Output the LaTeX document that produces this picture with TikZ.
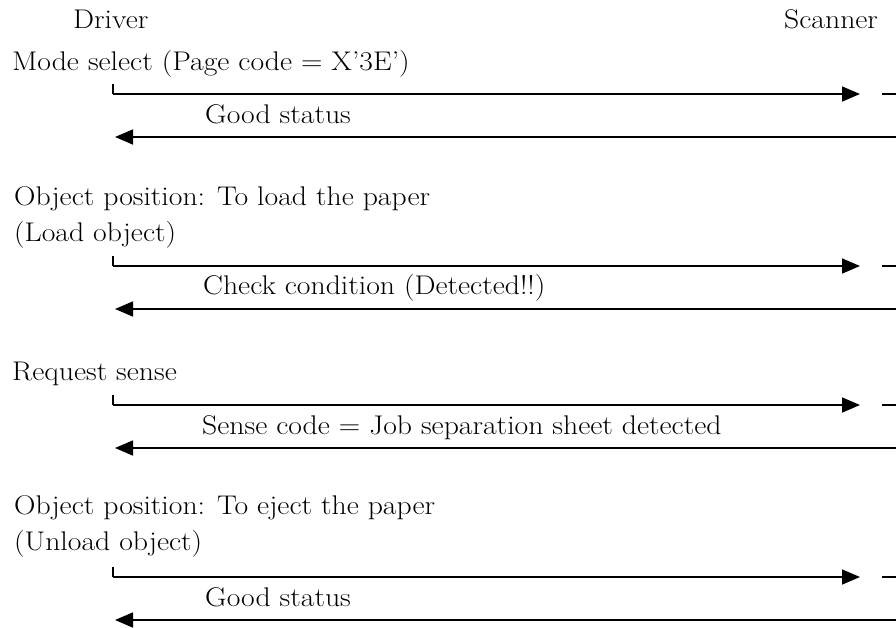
\documentclass[tikz,border=0pt]{standalone}
\usepackage{fontspec}
\setmainfont{Latin Modern Roman}[FakeStretch=1.1]
\usetikzlibrary{arrows.meta}
\begin{document}
\begin{tikzpicture}[x=1pt,y=-1pt,
  lbl/.style={anchor=base west,inner sep=0pt,font=\fontsize{27}{31}\selectfont},
  msg/.style={line width=1.6pt,-{Triangle[length=18pt,width=15pt]}},
  plain/.style={line width=1.6pt}]
\useasboundingbox (0,0) rectangle (896,627);
% headers
\node[lbl] (driver) at (73,28) {Driver};
\node[lbl] (scanner) at (784,28) {Scanner};
% block 1
\node[lbl] (mode) at (12,70) {Mode select (Page code = X'3E')};
\coordinate (s1) at (113,94); \coordinate (t1) at (860,94);
\coordinate (d1a) at (882,94); \coordinate (d1b) at (896,94);
\draw[plain] (s1) -- ++(0,-10);
\draw[msg] (s1) -- (t1);
\draw[plain] (d1a) -- (d1b);
\node[lbl] (good1) at (205,123) {Good status};
\coordinate (r1a) at (896,137); \coordinate (r1b) at (115,137);
\draw[msg] (r1a) -- (r1b);
% block 2
\node[lbl] (obj2) at (14,205) {Object position:  To load the paper};
\node[lbl] (load2) at (14,241) {(Load object)};
\coordinate (s2) at (113,266); \coordinate (t2) at (860,266);
\coordinate (d2a) at (882,266); \coordinate (d2b) at (896,266);
\draw[plain] (s2) -- ++(0,-10);
\draw[msg] (s2) -- (t2);
\draw[plain] (d2a) -- (d2b);
\node[lbl] (check2) at (203,294) {Check condition (Detected!!)};
\coordinate (r2a) at (896,309); \coordinate (r2b) at (115,309);
\draw[msg] (r2a) -- (r2b);
% block 3
\node[lbl] (req3) at (12,380) {Request sense};
\coordinate (s3) at (113,405); \coordinate (t3) at (860,405);
\coordinate (d3a) at (882,405); \coordinate (d3b) at (896,405);
\draw[plain] (s3) -- ++(0,-10);
\draw[msg] (s3) -- (t3);
\draw[plain] (d3a) -- (d3b);
\node[lbl] (sense3) at (202,434) {Sense code = Job separation sheet detected};
\coordinate (r3a) at (896,448); \coordinate (r3b) at (115,448);
\draw[msg] (r3a) -- (r3b);
% block 4
\node[lbl] (obj4) at (14,514) {Object position:  To eject the paper};
\node[lbl] (unload4) at (14,550) {(Unload object)};
\coordinate (s4) at (113,577); \coordinate (t4) at (860,577);
\coordinate (d4a) at (882,577); \coordinate (d4b) at (896,577);
\draw[plain] (s4) -- ++(0,-10);
\draw[msg] (s4) -- (t4);
\draw[plain] (d4a) -- (d4b);
\node[lbl] (good4) at (205,606) {Good status};
\coordinate (r4a) at (896,620); \coordinate (r4b) at (115,620);
\draw[msg] (r4a) -- (r4b);
\end{tikzpicture}
\end{document}
